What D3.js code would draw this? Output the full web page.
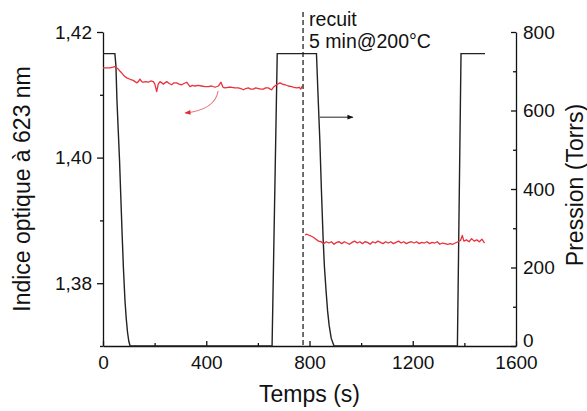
<!DOCTYPE html>
<html><head><meta charset="utf-8">
<script src="https://cdn.jsdelivr.net/npm/d3@7"></script>
<style>
html,body{margin:0;padding:0;background:#fff;}
svg{display:block;font-family:"Liberation Sans",Arial,sans-serif;}
</style></head>
<body><svg id="c" width="587" height="411"></svg>
<script>
// ---- data ----
const indexTime1 = [0,14,27,38,46,52,59,65,72,78,85,92,98,108,117,124,130,137,143,150,156,166,176,185,195,201,208,214,221,228,234,240,247,256,266,275,285,295,305,314,324,330,337,346,356,369,382,395,408,421,434,447,457,465,473,485,498,511,524,534,544,553,563,572,582,592,602,612,621,630,640,648,653,660,666,676,686,695,705,718,731,740,750,760,766,772];
const indexVal1 = [1.4143,1.4143,1.4143,1.4144,1.4145,1.4143,1.4141,1.4138,1.4135,1.4132,1.4129,1.4127,1.4126,1.4124,1.4123,1.4121,1.4119,1.4121,1.4125,1.4121,1.4120,1.4121,1.4120,1.4122,1.4121,1.4117,1.4105,1.4117,1.4121,1.4119,1.4117,1.4119,1.4121,1.4118,1.4116,1.4119,1.4119,1.4117,1.4116,1.4118,1.4120,1.4117,1.4113,1.4115,1.4114,1.4115,1.4114,1.4113,1.4113,1.4114,1.4112,1.4114,1.4120,1.4112,1.4111,1.4112,1.4112,1.4111,1.4111,1.4110,1.4108,1.4110,1.4111,1.4109,1.4109,1.4111,1.4110,1.4109,1.4109,1.4111,1.4111,1.4109,1.4108,1.4112,1.4114,1.4117,1.4119,1.4117,1.4116,1.4114,1.4113,1.4112,1.4111,1.4112,1.4109,1.4114];
const indexTime2 = [783,790,800,812,825,835,845,855,865,875,885,895,905,915,925,935,945,955,965,975,985,995,1005,1015,1025,1035,1045,1055,1065,1075,1085,1095,1105,1115,1125,1135,1145,1155,1165,1175,1185,1195,1205,1215,1225,1235,1245,1255,1265,1275,1285,1295,1305,1315,1325,1335,1345,1355,1365,1375,1385,1392,1398,1408,1418,1428,1438,1448,1458,1468,1478];
const indexVal2 = [1.3877,1.3878,1.3876,1.3874,1.3870,1.3867,1.3866,1.3863,1.3866,1.3864,1.3866,1.3862,1.3865,1.3866,1.3863,1.3866,1.3864,1.3862,1.3865,1.3867,1.3864,1.3866,1.3863,1.3866,1.3865,1.3862,1.3866,1.3864,1.3867,1.3865,1.3863,1.3866,1.3864,1.3866,1.3863,1.3865,1.3867,1.3864,1.3866,1.3863,1.3865,1.3866,1.3864,1.3866,1.3863,1.3865,1.3864,1.3866,1.3863,1.3865,1.3864,1.3866,1.3862,1.3864,1.3863,1.3862,1.3863,1.3862,1.3864,1.3866,1.3868,1.3876,1.3867,1.3869,1.3866,1.3871,1.3867,1.3869,1.3866,1.3870,1.3864];
const pressureTime = [0,46,50,54,59,64,69,74,79,85,90,95,100,105,655,675,827,833,840,846,853,858,864,870,876,884,895,1373,1387,1480];
const pressureVal  = [745,745,715,627,550,474,380,287,200,117,70,35,12,0,0,745,745,640,525,400,270,200,142,90,53,20,0,0,745,745];
const xTicks = [0,400,800,1200,1600];
const xMinor = [200,600,1000,1400];
const idxTicks = [1.38,1.40,1.42];
const idxMinor = [1.37,1.39,1.41];
const pTicks = [0,200,400,600,800];
const pMinor = [100,300,500,700];
const annealTime = 775;
const annotLines = ["recuit","5 min@200°C"];
// arrows in data units
const blackArrow = {t0:840, t1:968, p:583};
const redArrow = {t0:446, n0:1.4106, tc:434, nc:1.4076, t1:318, n1:1.4071};

// ---- layout ----
const W=587,H=411, m={l:103,r:71,t:32,b:65};
const svg=d3.select("#c");
const x=d3.scaleLinear().domain([0,1600]).range([m.l,W-m.r]);
const yI=d3.scaleLinear().domain([1.37,1.42]).range([H-m.b,m.t]);
const yP=d3.scaleLinear().domain([0,800]).range([H-m.b,m.t]);
const fmtI=d=>d3.format(".2f")(d).replace(".",",");

function style(g){
  g.selectAll("path.domain").attr("stroke","#111").attr("stroke-width",1.3);
  g.selectAll(".tick line").attr("stroke","#111").attr("stroke-width",1.3);
  g.selectAll(".tick text").attr("font-size",19).attr("fill","#111").attr("font-family","Liberation Sans, Arial, sans-serif");
}
// bottom
const gx=svg.append("g").attr("transform",`translate(0,${H-m.b})`)
  .call(d3.axisBottom(x).tickValues(xTicks).tickFormat(d3.format("d")).tickSize(-5).tickSizeOuter(0).tickPadding(10));
style(gx);
const gxm=svg.append("g").attr("transform",`translate(0,${H-m.b})`)
  .call(d3.axisBottom(x).tickValues(xMinor).tickSize(-3).tickFormat(""));
gxm.select("path.domain").remove(); style(gxm);
// left
const gl=svg.append("g").attr("transform",`translate(${m.l},0)`)
  .call(d3.axisLeft(yI).tickValues(idxTicks).tickFormat(fmtI).tickSize(6).tickSizeOuter(0).tickPadding(5));
style(gl);
const glm=svg.append("g").attr("transform",`translate(${m.l},0)`)
  .call(d3.axisLeft(yI).tickValues(idxMinor).tickSize(3).tickFormat(""));
glm.select("path.domain").remove(); style(glm);
// right
const gr=svg.append("g").attr("transform",`translate(${W-m.r},0)`)
  .call(d3.axisRight(yP).tickValues(pTicks).tickSize(-5).tickSizeOuter(0).tickPadding(7));
style(gr);
const grm=svg.append("g").attr("transform",`translate(${W-m.r},0)`)
  .call(d3.axisRight(yP).tickValues(pMinor).tickSize(-3).tickFormat(""));
grm.select("path.domain").remove(); style(grm);
// nudge right-axis "0" label up a bit to clear "1600"
gr.selectAll(".tick").filter(d=>d===0).select("text").attr("dy","0.05em");

// titles
svg.append("text").attr("x",(x(0)+x(1600))/2).attr("y",402).attr("text-anchor","middle")
  .attr("font-size",23).attr("fill","#111").text("Temps (s)");
svg.append("text").attr("transform",`translate(30,${(yI(1.37)+yI(1.42))/2}) rotate(-90)`)
  .attr("text-anchor","middle").attr("font-size",23).attr("fill","#111").text("Indice optique à 623 nm");
svg.append("text").attr("transform",`translate(583,${(yP(0)+yP(800))/2-4}) rotate(-90)`)
  .attr("text-anchor","middle").attr("font-size",23).attr("fill","#111").text("Pression (Torrs)");

// pressure line
const pData=pressureTime.map((t,i)=>[t,pressureVal[i]]);
svg.append("path").datum(pData).attr("fill","none").attr("stroke","#222").attr("stroke-width",1.4)
  .attr("d",d3.line().x(d=>x(d[0])).y(d=>yP(d[1])));
// index lines
[[indexTime1,indexVal1],[indexTime2,indexVal2]].forEach(([T,V])=>{
  svg.append("path").datum(T.map((t,i)=>[t,V[i]])).attr("fill","none").attr("stroke","#e8323c")
    .attr("stroke-width",1.3).attr("stroke-linejoin","round")
    .attr("d",d3.line().x(d=>x(d[0])).y(d=>yI(d[1])));
});

// anneal dashed line + text
svg.append("line").attr("x1",x(annealTime)).attr("x2",x(annealTime))
  .attr("y1",yI(1.4232)).attr("y2",yI(1.37)).attr("stroke","#222").attr("stroke-width",1.3)
  .attr("stroke-dasharray","5,3");
svg.append("text").attr("x",x(annealTime)+6).attr("y",26).attr("font-size",19.5).attr("fill","#111").text(annotLines[0]);
svg.append("text").attr("x",x(annealTime)+6).attr("y",48).attr("font-size",19.5).attr("fill","#111").text(annotLines[1]);

// arrows
const defs=svg.append("defs");
defs.append("marker").attr("id","ab").attr("viewBox","0 0 10 10").attr("refX",9).attr("refY",5)
  .attr("markerWidth",8).attr("markerHeight",6).attr("markerUnits","userSpaceOnUse").attr("orient","auto")
  .append("path").attr("d","M0,1 L10,5 L0,9 Z").attr("fill","#111");
defs.append("marker").attr("id","ar").attr("viewBox","0 0 10 10").attr("refX",9).attr("refY",5)
  .attr("markerWidth",8).attr("markerHeight",6).attr("markerUnits","userSpaceOnUse").attr("orient","auto")
  .append("path").attr("d","M0,1 L10,5 L0,9 Z").attr("fill","#e02a34");
svg.append("line").attr("x1",x(blackArrow.t0)).attr("x2",x(blackArrow.t1))
  .attr("y1",yP(blackArrow.p)).attr("y2",yP(blackArrow.p)).attr("stroke","#222").attr("stroke-width",1)
  .attr("marker-end","url(#ab)");
const rp=d3.path();
rp.moveTo(x(redArrow.t0),yI(redArrow.n0));
rp.quadraticCurveTo(x(redArrow.tc),yI(redArrow.nc),x(redArrow.t1),yI(redArrow.n1));
svg.append("path").attr("d",rp.toString()).attr("fill","none").attr("stroke","#e87880").attr("stroke-width",1.1)
  .attr("marker-end","url(#ar)");
</script></body></html>
